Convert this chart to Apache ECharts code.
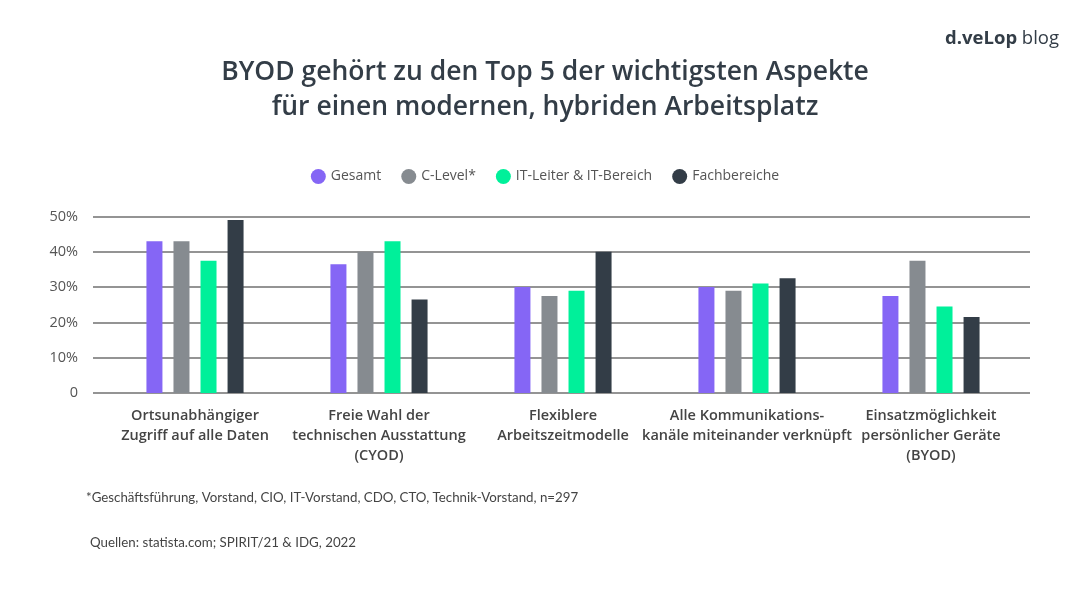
<!DOCTYPE html>
<html><head><meta charset="utf-8">
<script src="https://cdn.jsdelivr.net/npm/echarts@6/dist/echarts.min.js"></script>
<style>html,body{margin:0;padding:0;background:#fff}#c{width:1090px;height:600px}</style>
</head><body><div id="c"></div>
<script>
const categories = [
  "Ortsunabhängiger\nZugriff auf alle Daten",
  "Freie Wahl der\ntechnischen Ausstattung\n(CYOD)",
  "Flexiblere\nArbeitszeitmodelle",
  "Alle Kommunikations-\nkanäle miteinander verknüpft",
  "Einsatzmöglichkeit\npersönlicher Geräte\n(BYOD)"
];
const seriesNames = ["Gesamt", "C-Level*", "IT-Leiter & IT-Bereich", "Fachbereiche"];
const gesamt = [43, 36.5, 30, 30, 27.5];
const cLevel = [43, 40, 27.5, 29, 37.5];
const itLeiter = [37.5, 43, 29, 31, 24.5];
const fachbereiche = [49, 26.5, 40, 32.5, 21.5];
const yTicks = [0, 10, 20, 30, 40, 50];
const colors = ["#8566F5", "#868B90", "#00F09A", "#333D47"];
const FONT = "Open Sans";

const chart = echarts.init(document.getElementById('c'));
const values = [gesamt, cLevel, itLeiter, fachbereiche];
chart.setOption({
  backgroundColor: '#fff',
  textStyle: { fontFamily: FONT },
  title: [
    { text: "BYOD gehört zu den Top 5 der wichtigsten Aspekte\nfür einen modernen, hybriden Arbeitsplatz",
      left: 'center', top: 50,
      textStyle: { fontFamily: FONT, fontSize: 26.5, fontWeight: 600, color: '#333D47', lineHeight: 35 } },
    { text: "{a|d.veLop} {b|blog}", right: 26, top: 24,
      textStyle: { rich: {
        a: { fontFamily: FONT, fontSize: 18.5, fontWeight: 700, color: '#333D47' },
        b: { fontFamily: FONT, fontSize: 18.5, fontWeight: 400, color: '#333D47' } } } },
    { text: "*Geschäftsführung, Vorstand, CIO, IT-Vorstand, CDO, CTO, Technik-Vorstand, n=297",
      left: 81, top: 486, textStyle: { fontFamily: 'Lato', fontSize: 13.3, fontWeight: 400, color: '#444' } },
    { text: "Quellen: statista.com; SPIRIT/21 & IDG, 2022",
      left: 85, top: 531, textStyle: { fontFamily: 'Lato', fontSize: 13.3, fontWeight: 400, color: '#444' } }
  ],
  legend: {
    top: 164, left: 'center', icon: 'circle', itemWidth: 15, itemHeight: 15, itemGap: 20,
    textStyle: { fontFamily: FONT, fontSize: 14, color: '#555' },
    data: seriesNames
  },
  grid: [
    { left: 93, right: 60, top: 216.5, bottom: 207, containLabel: false },
    { left: 103, right: 67, top: 216.5, bottom: 207, containLabel: false }
  ],
  xAxis: [
    { gridIndex: 0, type: 'category', data: categories, show: false },
    { gridIndex: 1, type: 'category', data: categories,
      axisLine: { show: false }, axisTick: { show: false },
      axisLabel: { interval: 0, margin: 13, fontFamily: FONT, fontSize: 14.5, fontWeight: 600, color: '#444', lineHeight: 20 } }
  ],
  yAxis: [
    { gridIndex: 0, type: 'value', min: 0, max: 50, interval: 10,
      axisLine: { show: false }, axisTick: { show: false },
      splitLine: { lineStyle: { color: '#707070', width: 1.5 } },
      axisLabel: { margin: 15, fontFamily: FONT, fontSize: 14.5, color: '#555',
        formatter: v => yTicks.includes(v) ? (v === 0 ? '0' : v + '%') : '' } },
    { gridIndex: 1, type: 'value', min: 0, max: 50, interval: 10, show: false }
  ],
  series: seriesNames.map((n, i) => ({
    name: n, type: 'bar', xAxisIndex: 1, yAxisIndex: 1, data: values[i],
    barWidth: 16, barGap: '69%',
    itemStyle: { color: colors[i] }
  }))
});
</script></body></html>
